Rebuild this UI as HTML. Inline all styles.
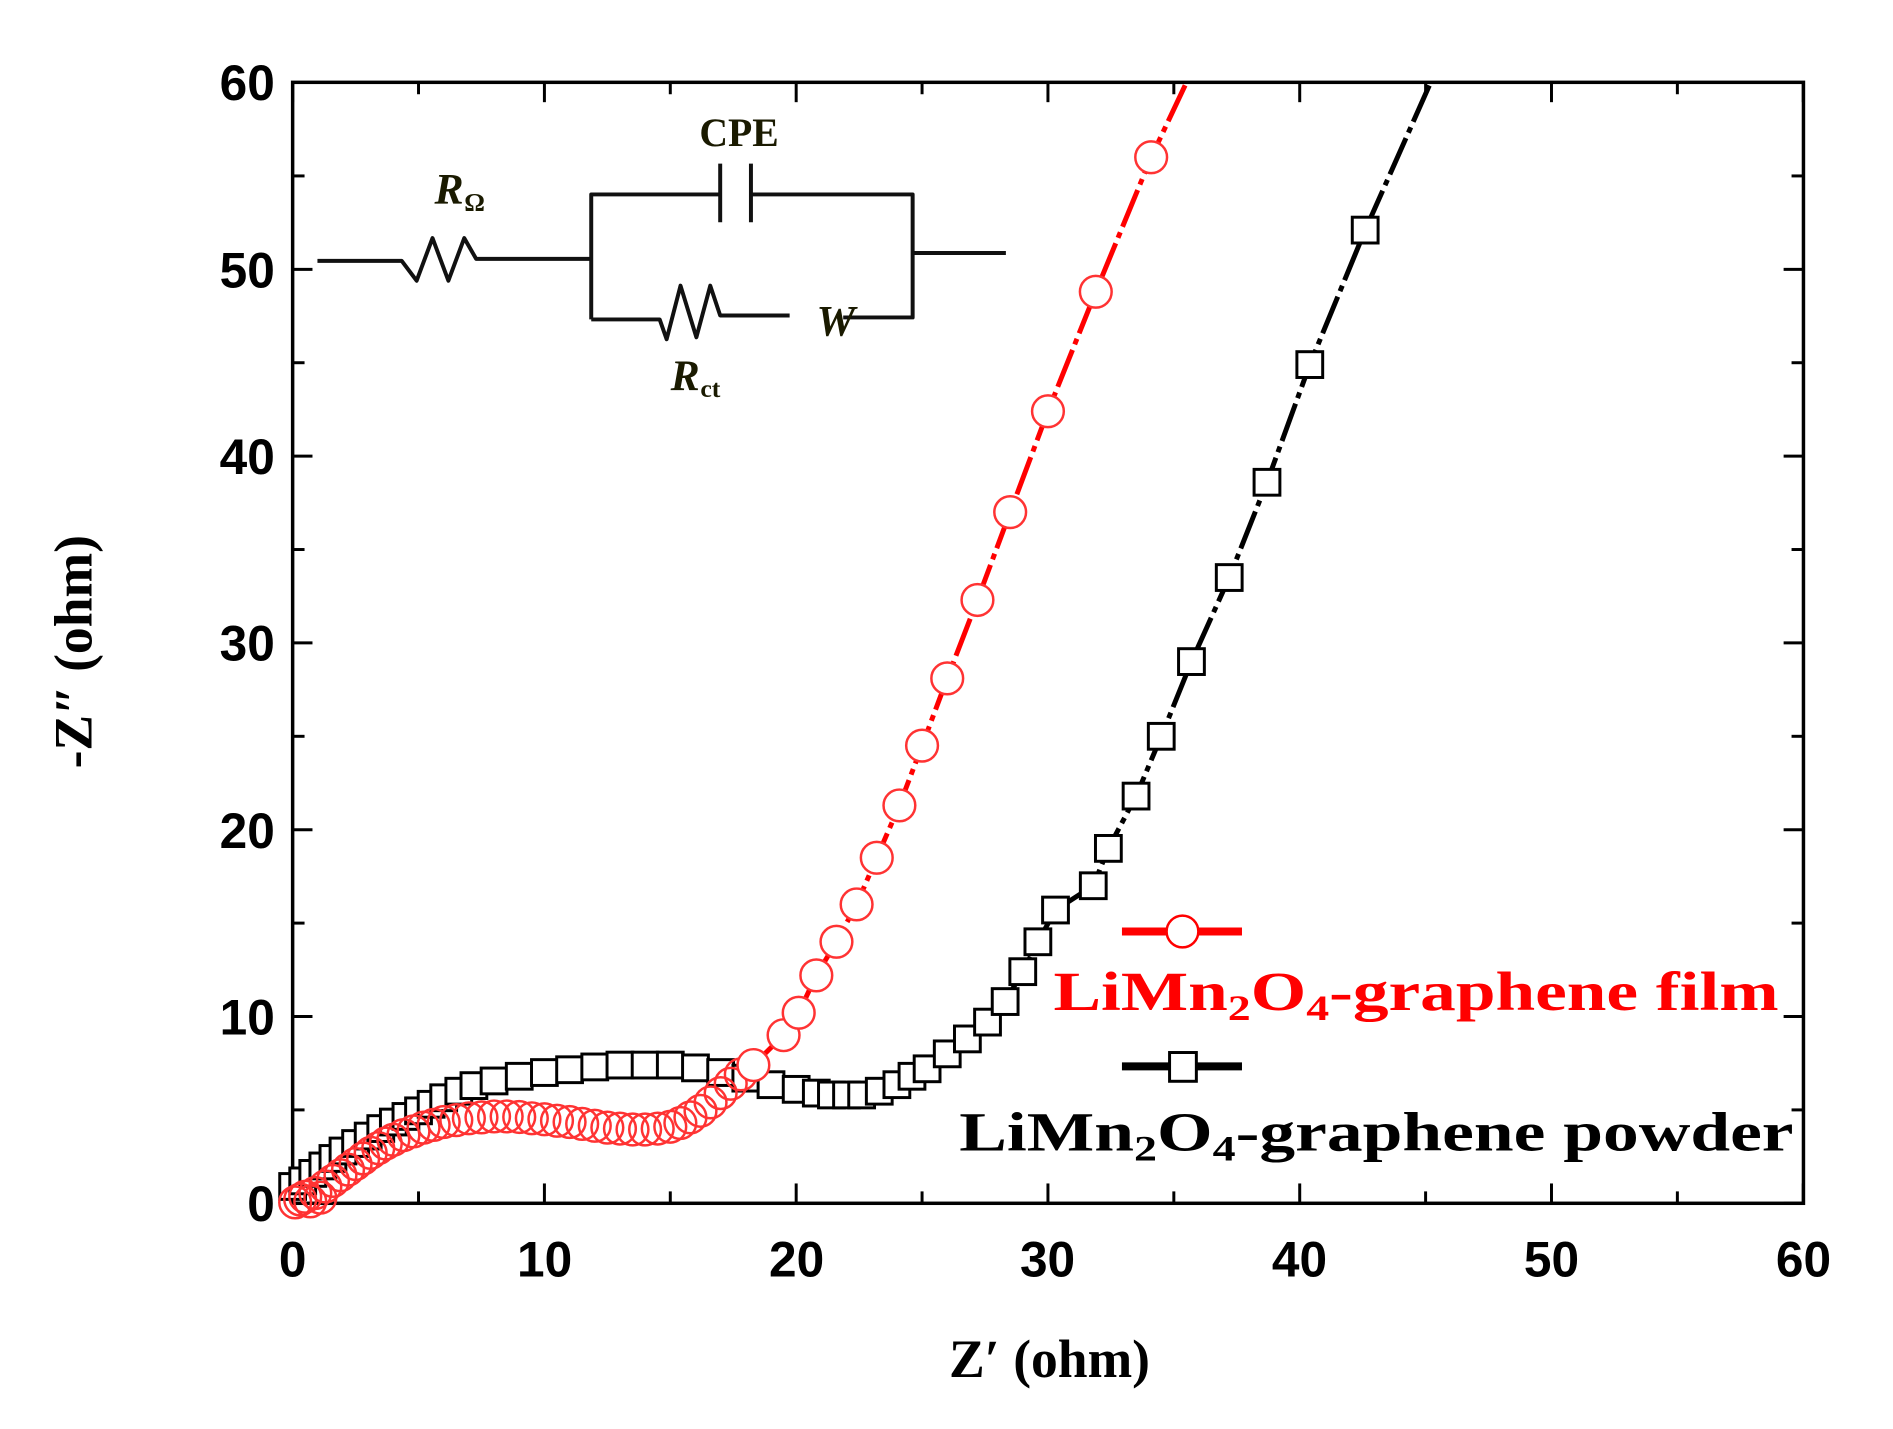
<!DOCTYPE html>
<html><head><meta charset="utf-8"><style>
html,body{margin:0;padding:0;background:#fff;}
svg{display:block;}
</style></head><body>
<svg id="s" width="1893" height="1429" viewBox="0 0 1893 1429" xmlns="http://www.w3.org/2000/svg">
<rect x="0" y="0" width="1893" height="1429" fill="#fff"/>
<g transform="scale(0.992)">
<g id="ticks" stroke="#000" stroke-width="3"></g>
<rect x="295" y="83" width="1523" height="1130" fill="none" stroke="#000" stroke-width="3.5"/>
<g font-family="'Liberation Sans',Arial,sans-serif" font-weight="bold" font-size="50" fill="#000">
<text x="277" y="1231" text-anchor="end">0</text>
<text x="277" y="1043" text-anchor="end">10</text>
<text x="277" y="855" text-anchor="end">20</text>
<text x="277" y="666" text-anchor="end">30</text>
<text x="277" y="478" text-anchor="end">40</text>
<text x="277" y="290" text-anchor="end">50</text>
<text x="277" y="101" text-anchor="end">60</text>
<text x="295" y="1287" text-anchor="middle">0</text>
<text x="549" y="1287" text-anchor="middle">10</text>
<text x="803" y="1287" text-anchor="middle">20</text>
<text x="1056" y="1287" text-anchor="middle">30</text>
<text x="1310" y="1287" text-anchor="middle">40</text>
<text x="1564" y="1287" text-anchor="middle">50</text>
<text x="1818" y="1287" text-anchor="middle">60</text>
</g>
<g font-family="'Liberation Serif','Times New Roman',serif" font-weight="bold" font-size="54" fill="#000">
<text x="1058" y="1388" text-anchor="middle">Z′ (ohm)</text>
<text transform="translate(92,657) rotate(-90)" text-anchor="middle">-Z″ (ohm)</text>
</g>
<g stroke="#111" stroke-width="4" fill="none" stroke-linejoin="round">
<polyline points="320,263 405,263 420,283 436,240 452,283 468,240 480,261 596,261"/>
<polyline points="596,322 596,196 726,196"/>
<line x1="726" y1="165" x2="726" y2="224"/>
<line x1="757" y1="165" x2="757" y2="224"/>
<polyline points="757,196 920,196 920,320 850,320"/>
<polyline points="596,322 665,322 672,342 686,288 702,340 716,288 726,318 796,318"/>
<line x1="920" y1="255" x2="1014" y2="255"/>
</g>
<g font-family="'Liberation Serif','Times New Roman',serif" font-weight="bold" fill="#1a1a00">
<text x="745" y="147" font-size="40" text-anchor="middle">CPE</text>
<text x="438" y="205" font-size="44" font-style="italic">R</text>
<text x="468" y="212" font-size="26">Ω</text>
<text x="676" y="393" font-size="44" font-style="italic">R</text>
<text x="706" y="400" font-size="26">ct</text>
<text x="823" y="338" font-size="44" font-style="italic">W</text>
</g>
<g id="data"></g>
<g stroke-width="8">
<line x1="1131" y1="939" x2="1252" y2="939" stroke="#f00"/>
<line x1="1131" y1="1075" x2="1252" y2="1075" stroke="#000"/>
</g>
<circle cx="1192" cy="939" r="16" fill="#fff" stroke="#f00" stroke-width="2.5"/>
<rect x="1179" y="1061" width="27" height="29" fill="#fff" stroke="#000" stroke-width="3"/>
<g font-family="'Liberation Serif','Times New Roman',serif" font-weight="bold" font-size="56">
<text x="1062" y="1018" fill="#f00" textLength="731" lengthAdjust="spacingAndGlyphs">LiMn<tspan font-size="36" dy="10">2</tspan><tspan dy="-10">O</tspan><tspan font-size="36" dy="10">4</tspan><tspan dy="-10">-graphene film</tspan></text>
<text x="967" y="1160" fill="#000" textLength="841" lengthAdjust="spacingAndGlyphs">LiMn<tspan font-size="36" dy="10">2</tspan><tspan dy="-10">O</tspan><tspan font-size="36" dy="10">4</tspan><tspan dy="-10">-graphene powder</tspan></text>
</g>
</g>
<script>
(function(){
var NS="http://www.w3.org/2000/svg";
function X(x){return 295+25.38*x;} function Y(y){return 1213-18.83*y;}
var t=document.getElementById("ticks"),i,l;
function ln(g,a,b,c,d){var e=document.createElementNS(NS,"line");e.setAttribute("x1",a);e.setAttribute("y1",b);e.setAttribute("x2",c);e.setAttribute("y2",d);g.appendChild(e);}
for(i=0;i<=60;i+=5){l=(i%10==0)?20:12;
ln(t,X(i),1213,X(i),1213-l);ln(t,X(i),83,X(i),83+l);
ln(t,295,Y(i),295+l,Y(i));ln(t,1818,Y(i),1818-l,Y(i));}
var g=document.getElementById("data");
var red=[[0.1,0.05],[0.3,0.2],[0.5,0.35],[0.7,0.1],[0.9,0.55],[1.1,0.3],[1.3,0.9],[1.6,1.2],[1.9,1.5],[2.2,1.8],[2.5,2.1],[2.8,2.4],[3.1,2.7],[3.4,2.95],[3.7,3.2],[4,3.4],[4.4,3.65],[4.8,3.85],[5.2,4.05],[5.6,4.2],[6,4.35],[6.5,4.45],[7,4.55],[7.5,4.6],[8,4.65],[8.5,4.65],[9,4.62],[9.5,4.55],[10,4.5],[10.5,4.42],[11,4.35],[11.5,4.25],[12,4.15],[12.5,4.05],[13,4.0],[13.5,3.95],[14,3.95],[14.5,4.0],[15,4.1],[15.4,4.3],[15.8,4.6],[16.2,4.95],[16.6,5.4],[17,5.9],[17.4,6.4],[17.8,6.9],[18.3,7.4],[19.5,9],[20.1,10.2],[20.8,12.2],[21.6,14],[22.4,16],[23.2,18.5],[24.1,21.3],[25,24.5],[26,28.1],[27.2,32.3],[28.5,37],[30,42.4],[31.9,48.8],[34.1,56]];
var blk=[[0,0.9],[0.4,1.2],[0.8,1.6],[1.2,2.0],[1.6,2.4],[2,2.8],[2.5,3.2],[3,3.6],[3.5,4.0],[4,4.35],[4.5,4.65],[5,4.95],[5.5,5.3],[6,5.65],[6.6,6.0],[7.2,6.3],[8,6.55],[9,6.8],[10,7.0],[11,7.15],[12,7.3],[13,7.4],[14,7.4],[15,7.4],[16,7.25],[17,7.0],[18,6.7],[19,6.35],[20,6.1],[20.8,5.9],[21.4,5.8],[22,5.8],[22.6,5.8],[23.3,6.0],[24,6.35],[24.6,6.8],[25.2,7.2],[26,8],[26.8,8.8],[27.6,9.7],[28.3,10.8],[29,12.4],[29.6,14],[30.3,15.7],[31.8,17],[32.4,19],[33.5,21.8],[34.5,25],[35.7,29],[37.2,33.5],[38.7,38.6],[40.4,44.9],[42.6,52.1]];
function path(arr,ext,col,dash){var p=document.createElementNS(NS,"polyline");var s=arr.map(function(a){return X(a[0])+","+Y(a[1]);}).join(" ")+" "+X(ext[0])+","+Y(ext[1]);p.setAttribute("points",s);p.setAttribute("fill","none");p.setAttribute("stroke",col);p.setAttribute("stroke-width","5");if(dash)p.setAttribute("stroke-dasharray",dash);g.appendChild(p);}
path(blk.slice(40),[45.2,60],"#000","40,6,6,6");
path(red.slice(46),[35.5,60],"#f00","40,6,6,6");
blk.forEach(function(a){var r=document.createElementNS(NS,"rect");r.setAttribute("x",X(a[0])-13);r.setAttribute("y",Y(a[1])-13);r.setAttribute("width",26);r.setAttribute("height",26);r.setAttribute("fill","#fff");r.setAttribute("stroke","#000");r.setAttribute("stroke-width","3");g.appendChild(r);});
red.forEach(function(a){var c=document.createElementNS(NS,"circle");c.setAttribute("cx",X(a[0]));c.setAttribute("cy",Y(a[1]));c.setAttribute("r",16);c.setAttribute("fill",a[0]>18?"#fff":"none");c.setAttribute("stroke","#f33");c.setAttribute("stroke-width","2.5");g.appendChild(c);});
})();
</script>
</svg>
</body></html>
